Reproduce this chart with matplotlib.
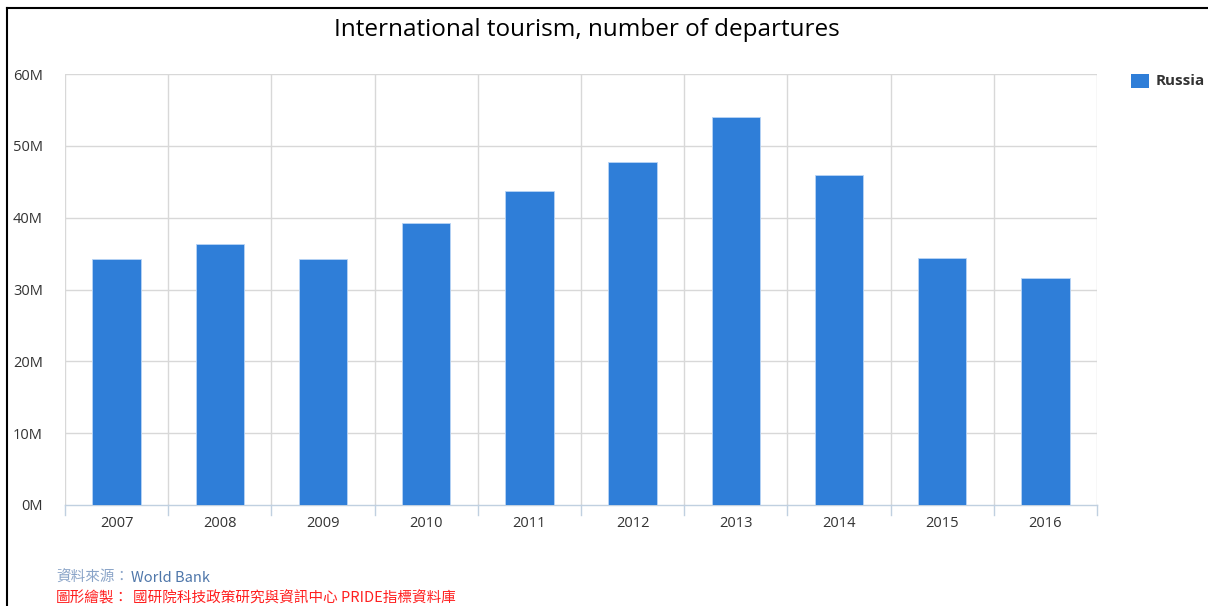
import matplotlib.pyplot as plt
from matplotlib.lines import Line2D
from matplotlib.patches import Rectangle

# Data (millions of departures)
years = ["2007", "2008", "2009", "2010", "2011", "2012", "2013", "2014", "2015", "2016"]
russia = [34.3, 36.4, 34.3, 39.3, 43.7, 47.7, 54.0, 45.9, 34.4, 31.6]
y_ticks = [0, 10, 20, 30, 40, 50, 60]

W, H = 1208, 606
fig = plt.figure(figsize=(W / 100, H / 100), dpi=100)
fig.patch.set_facecolor("white")

# plot area in pixels: x 65..1097, y 74..505
ax = fig.add_axes([65 / W, 1 - 505 / H, (1097 - 65) / W, (505 - 74) / H])
x = list(range(len(years)))
ax.bar(x, russia, width=0.47, color="#2f7ed8", edgecolor="#b8d4f5", linewidth=0.6, zorder=3)

ax.set_xlim(-0.5, len(years) - 0.5)
ax.set_ylim(0, 60)
ax.set_yticks(y_ticks)
ax.set_yticklabels([f"{v}M" for v in y_ticks], fontsize=10.5, color="#333333", family="Open Sans")
ax.set_xticks(x)
ax.set_xticklabels(years, fontsize=10.5, color="#333333", family="Open Sans")
ax.tick_params(axis="y", length=0, pad=16)
ax.tick_params(axis="x", length=0, pad=8)

# grid: horizontal at each tick, vertical at category boundaries
for v in y_ticks[1:]:
    ax.axhline(v, color="#d8d8d8", linewidth=1, zorder=1)
for b in [i - 0.5 for i in range(len(years) + 1)]:
    ax.axvline(b, color="#d8d8d8", linewidth=1, zorder=1)
    ax.plot([b, b], [0, -1.4], color="#c0d0e0", linewidth=1, clip_on=False, zorder=1)

for s in ["top", "right", "left"]:
    ax.spines[s].set_visible(False)
ax.spines["bottom"].set_color("#c0d0e0")
ax.spines["bottom"].set_linewidth(1)

fig.text(587 / W, 1 - 30 / H, "International tourism, number of departures",
         ha="center", va="center", fontsize=17.5, color="#000000", family="Open Sans")

# legend
fig.patches.append(Rectangle((1131 / W, 1 - 88 / H), 18 / W, 14 / H,
                             transform=fig.transFigure, facecolor="#2f7ed8", edgecolor="none"))
fig.text(1156 / W, 1 - 81 / H, "Russia", ha="left", va="center", fontsize=11,
         fontweight="bold", color="#333333", family="Open Sans")

# footer
cjk = ["Noto Sans CJK TC", "DejaVu Sans"]
fig.text(56 / W, 1 - 578 / H, "資料來源：", ha="left", va="center", fontsize=10.5,
         color="#8aa4c8", family=cjk)
fig.text(131 / W, 1 - 578 / H, "World Bank", ha="left", va="center", fontsize=10.5,
         color="#4f77aa", family=cjk)
fig.text(56 / W, 1 - 598 / H, "圖形繪製：", ha="left", va="center", fontsize=10.5,
         color="#ff2020", family=cjk)
fig.text(133 / W, 1 - 598 / H, "國研院科技政策研究與資訊中心 PRIDE指標資料庫",
         ha="left", va="center", fontsize=10.5, color="#ff2020", family=cjk)

# frame lines at left and top
fig.add_artist(Line2D([7 / W, 7 / W], [0, 1 - 8 / H], color="black", linewidth=1.5))
fig.add_artist(Line2D([7 / W, 1], [1 - 8 / H, 1 - 8 / H], color="black", linewidth=1.5))

fig.savefig("out.png", dpi=100)
